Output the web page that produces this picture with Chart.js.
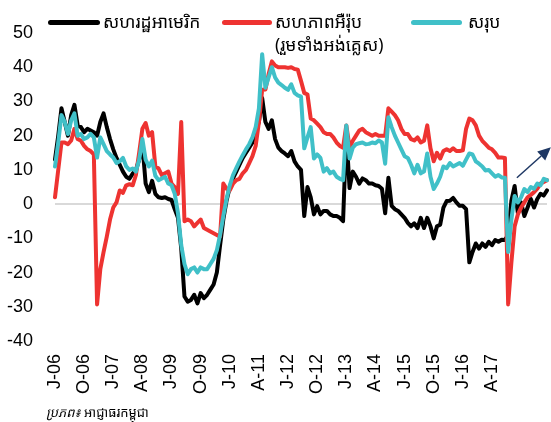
<!DOCTYPE html>
<html>
<head>
<meta charset="utf-8">
<script src="https://cdn.jsdelivr.net/npm/chart.js@4.4.0/dist/chart.umd.min.js"></script>
<style>
  html, body { margin: 0; padding: 0; background: #fff; }
  #wrap { position: relative; width: 551px; height: 422px; overflow: hidden; }
  canvas { position: absolute; left: 0; top: 0; }
  .lg { position: absolute; font-family: "Noto Sans Khmer", "Khmer OS", "Noto Sans", "DejaVu Sans", sans-serif; font-size: 17.5px; color: #000; line-height: 23px; white-space: nowrap; }
  .sw { position: absolute; height: 5px; border-radius: 3px; }
  #src { position: absolute; left: 46px; top: 403px; font-family: "Noto Sans Khmer", "Khmer OS", "Noto Sans", sans-serif; font-size: 13px; color: #000; white-space: nowrap; }
</style>
</head>
<body>
<div id="wrap">
  <canvas id="c" width="551" height="422"></canvas>
  <div class="sw" style="left:48px;top:20px;width:52px;background:#000;"></div>
  <div class="lg" style="left:103px;top:10px;">សហរដ្ឋអាមេរិក</div>
  <div class="sw" style="left:222px;top:20px;width:50px;background:#ee3331;"></div>
  <div class="lg" style="left:275px;top:10px;">សហភាពអឺរ៉ុប<br>(រួមទាំងអង់គ្លេស)</div>
  <div class="sw" style="left:411px;top:20px;width:51px;background:#40c0c8;"></div>
  <div class="lg" style="left:468px;top:10px;">សរុប</div>
  <div id="src"><i>ប្រភព៖</i> អាជ្ញាធរកម្ពុជា</div>
</div>
<script>
const seriesNames = ['សហរដ្ឋអាមេរិក', 'សហភាពអឺរ៉ុប (រួមទាំងអង់គ្លេស)', 'សរុប'];
const tickLabels = ['J-06','O-06','J-07','A-08','J-09','O-09','J-10','A-11','J-12','O-12','J-13','A-14','J-15','O-15','J-16','A-17'];
const monthLetters = ['J','F','M','A','M','J','J','A','S','O','N','D'];
const startYear = 2006;
const monthCount = 153;

const usa = [
 13,20,28,24,20,26,29,23,22.5,21, 22,21.5,21,20,24,26.5,22.5,19,16,13.5,
 11.5,9.5,8,7.4,8.9,10,13,17.5,6,3.5, 6.8,3,2,1.8,2,1.5,1.2,-1.5,-4,-13,
 -27,-28.5,-28,-26.5,-29,-26,-27.5,-26.5,-25,-23.5, -20,-12,-4.5,1,5,7.5,9.5,11.5,13.5,15,
 16.5,18,21,24,31,24,22,24.5,19,16.5, 15.5,14.8,14,15.5,12.5,11,10,-3.5,5,2,
 -3,-0.6,-3,-2,-2,-3,-3.5,-3.5,-4,-5, 21,4.7,9.5,8,6,7.5,7,6,6,5.5,
 5.3,4.5,-2.7,7.7,-0.5,-1.5,-2,-3,-4,-5.5, -6.5,-5.6,-7,-4,-7,-4,-6.5,-10,-6.5,-6,
 -1,0.9,1,1.8,0.5,-0.5,-0.5,-1.5,-17,-14, -11.5,-13,-11.5,-12.5,-11,-12,-10.5,-11,-10.4,-10.5,
 -9,1,5.3,-2.7,0.5,-3.5,-1,1.5,-1,1.5, 3,2.5,4
];
const europe = [
 2,10,18,18,17.5,18.6,22,19,18.5,17, 16,15.5,14.5,-29.3,-19,-14,-9.5,-4.5,-1,0.5,
 4,3.3,5.5,5.8,5.5,8.5,15,22,23.7,20, 21,11,10.4,8.5,9,9.5,6,5,3,24,
 -5,-4.5,-5,-6.5,-5.5,-4.5,-7,-7.5,-8,-8.5, -9,-9.5,6,4.5,4,6,7,7.4,9,10,
 12,14,17,24,33.4,33.5,38,41.7,40.5,40, 40,40,39.8,40,39.5,39.3,36,32.5,32,25,
 24.5,23.5,22.5,21,20.5,20.5,19.5,18,17,16.5, 23,16.6,18.5,20,21.5,22,21,20.5,20,20.5,
 20,20,20,28,27,26,24.5,22,20.5,20.5, 19,18.6,19.5,18,18.5,23,16.3,12.5,15,13.3,
 15.5,16,15.5,16.3,15.5,15.5,15.7,22,25,24.5, 23,20,18.5,17.5,16.5,16,15,13.6,13.6,13.5,
 -29.3,-17,-6.5,-3,-1,0.5,2,2.7,3.5,4.5, 6,6.5,7
];
const total = [
 11,18,26,24,20.5,24.5,26.5,20,20.5,19, 19.5,20.5,19.5,13.6,19.5,17.5,15.5,14.5,13.6,12,
 12.5,13.5,11,10,10.4,9.5,13,19,13,11, 12.7,8.3,7,7.5,8,6,5.5,3,-2.7,-12,
 -17.5,-20.5,-19,-18.5,-20,-18.5,-19,-19,-17.5,-16, -13.5,-9,-3.5,1.5,5.5,8.5,10.5,12.5,14.3,16,
 17.5,19.5,22.5,28,43.8,34,37,40,37,35.5, 34.8,34,33.4,35,32.5,31.8,31.4,16.3,19.5,22.5,
 13.3,14.5,13.5,9.5,10.5,9,9.5,8,7.4,7, 23,13.3,16.5,17.5,17.8,18,17.5,17.6,18,17.8,
 18.6,18,11.8,25.4,22.5,20,18,16,14,13.5, 11.5,9,11.5,9,9.5,14.8,8,4.4,6,8,
 11,10.5,12,11,11.5,12,11.2,13,14.8,14.5, 12.5,11.8,11,9.8,10,9,8,8.5,7.8,7.7,
 -14,-4.5,2.4,0.5,2,4.4,3.5,5,4.5,6, 5.5,7.4,7
];
// trend arrow annotation in data units: [fromIndex, fromValue, toIndex, toValue]
const arrowData = [142.7, 7.7, 153.2, 16.6];

const categories = [];
for (let k = 0; k < monthCount; k++) {
  const y = startYear + Math.floor(k / 12);
  categories.push(monthLetters[k % 12] + '-' + String(y % 100).padStart(2, '0'));
}

const arrowPlugin = {
  id: 'arrow',
  afterDatasetsDraw(chart) {
    const xs = chart.scales.x, ys = chart.scales.y;
    const pix = (i) => {
      const a = xs.getPixelForValue(0), b = xs.getPixelForValue(1);
      return a + (b - a) * i;
    };
    const x1 = pix(arrowData[0]), y1 = ys.getPixelForValue(arrowData[1]);
    const x2 = pix(arrowData[2]), y2 = ys.getPixelForValue(arrowData[3]);
    const ctx = chart.ctx;
    ctx.save();
    ctx.strokeStyle = '#1f3864';
    ctx.fillStyle = '#1f3864';
    ctx.lineWidth = 1.5;
    const ang = Math.atan2(y2 - y1, x2 - x1);
    const hl = 13, hw = 6;
    const bx = x2 - hl * Math.cos(ang), by = y2 - hl * Math.sin(ang);
    ctx.beginPath();
    ctx.moveTo(x1, y1);
    ctx.lineTo(bx, by);
    ctx.stroke();
    ctx.beginPath();
    ctx.moveTo(x2, y2);
    ctx.lineTo(bx + hw * Math.sin(ang), by - hw * Math.cos(ang));
    ctx.lineTo(bx - hw * Math.sin(ang), by + hw * Math.cos(ang));
    ctx.closePath();
    ctx.fill();
    ctx.restore();
  }
};

new Chart(document.getElementById('c'), {
  type: 'line',
  data: {
    labels: categories,
    datasets: [
      { label: seriesNames[0], data: usa, borderColor: '#000000', order: 3 },
      { label: seriesNames[1], data: europe, borderColor: '#ee3331', order: 2 },
      { label: seriesNames[2], data: total, borderColor: '#40c0c8', order: 1 }
    ]
  },
  options: {
    responsive: false,
    devicePixelRatio: 1,
    animation: false,
    layout: { padding: { top: 33, right: 4, bottom: 0, left: 0 } },
    elements: {
      point: { radius: 0 },
      line: { borderWidth: 4, tension: 0, borderJoinStyle: 'round', borderCapStyle: 'round' }
    },
    plugins: { legend: { display: false }, tooltip: { enabled: false } },
    scales: {
      x: {
        type: 'category',
        offset: false,
        grid: { display: false },
        border: { display: false },
        ticks: {
          autoSkip: false,
          maxRotation: 90,
          minRotation: 90,
          padding: 5,
          color: '#000',
          font: { family: 'Liberation Sans, Arial, sans-serif', size: 18 },
          callback: (v, i) => (i % 9 === 0 ? tickLabels[i / 9] : '')
        },
        afterFit: (s) => { s.height = 81; s.paddingLeft = 0; s.paddingRight = 0; }
      },
      y: {
        min: -40,
        max: 50,
        grid: {
          drawTicks: false,
          color: (c) => (c.tick && c.tick.value === 0 ? '#d9d9d9' : 'rgba(0,0,0,0)'),
          lineWidth: 2
        },
        border: { display: false },
        ticks: {
          stepSize: 10,
          padding: 22,
          color: '#000',
          font: { family: 'Liberation Sans, Arial, sans-serif', size: 18 }
        },
        afterFit: (s) => { s.width = 55; s.paddingTop = 0; s.paddingBottom = 0; }
      }
    }
  },
  plugins: [arrowPlugin]
});
</script>
</body>
</html>
